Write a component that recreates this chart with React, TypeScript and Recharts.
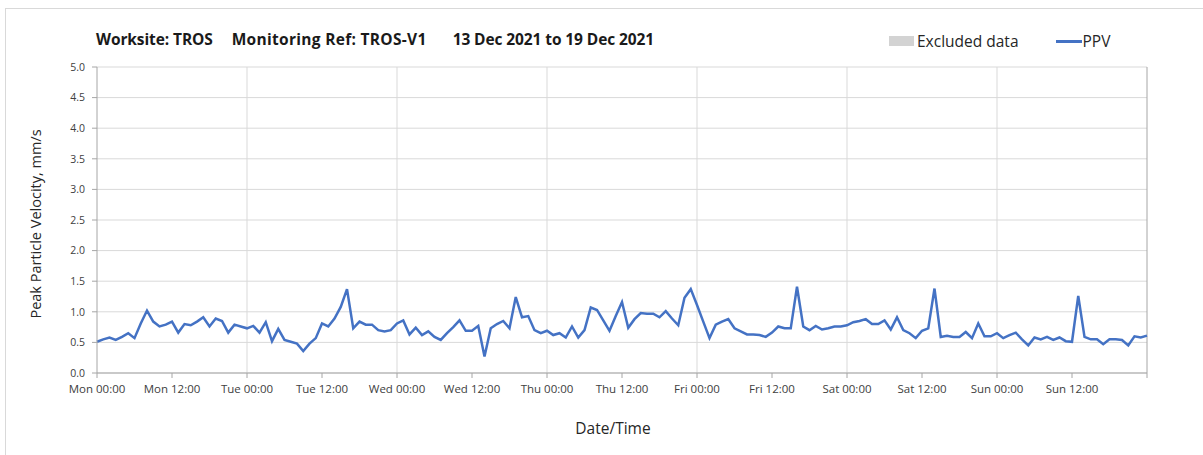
import React from 'react';
import { LineChart, Line, XAxis, YAxis, CartesianGrid, ReferenceLine } from 'recharts';

// Hourly peak particle velocity (mm/s), Mon 00:00 .. next Mon 00:00
const ppvValues: number[] = [
  0.51, 0.55, 0.58, 0.54, 0.59, 0.65, 0.57, 0.81, 1.02, 0.84,
  0.76, 0.79, 0.84, 0.66, 0.80, 0.78, 0.84, 0.91, 0.76, 0.89,
  0.85, 0.66, 0.79, 0.76, 0.73, 0.77, 0.66, 0.83, 0.52, 0.72,
  0.54, 0.51, 0.48, 0.36, 0.48, 0.57, 0.81, 0.76, 0.89, 1.08,
  1.37, 0.73, 0.84, 0.79, 0.79, 0.70, 0.68, 0.70, 0.81, 0.86,
  0.63, 0.74, 0.62, 0.68, 0.59, 0.54, 0.65, 0.75,
  0.86, 0.69, 0.69, 0.77, 0.27, 0.73, 0.80, 0.85, 0.73, 1.24,
  0.91, 0.93, 0.70, 0.65, 0.69, 0.62, 0.65, 0.58, 0.76, 0.58,
  0.70, 1.07, 1.03, 0.86, 0.69, 0.93, 1.16, 0.74, 0.88, 0.98,
  0.97, 0.97, 0.91, 1.01, 0.89, 0.78, 1.23, 1.37, 1.11, 0.84,
  0.57, 0.79, 0.84, 0.88, 0.73, 0.68, 0.63, 0.63, 0.62, 0.59,
  0.66, 0.76, 0.73, 0.73, 1.41, 0.76,
  0.70, 0.77, 0.71, 0.73, 0.76, 0.76, 0.78, 0.83, 0.85, 0.88,
  0.80, 0.80, 0.86, 0.71, 0.91, 0.70, 0.65, 0.57, 0.69, 0.73,
  1.38, 0.59, 0.61, 0.59, 0.59, 0.67, 0.57, 0.81, 0.60, 0.60,
  0.65, 0.57, 0.62, 0.66, 0.55, 0.45, 0.58, 0.55, 0.59, 0.54,
  0.58, 0.52, 0.51, 1.26, 0.59, 0.55, 0.55, 0.47, 0.55, 0.55,
  0.54, 0.45, 0.60, 0.58, 0.61,
];

const xTickHours = [0, 12, 24, 36, 48, 60, 72, 84, 96, 108, 120, 132, 144, 156, 168];
const xTickLabels = [
  'Mon 00:00', 'Mon 12:00', 'Tue 00:00', 'Tue 12:00', 'Wed 00:00', 'Wed 12:00',
  'Thu 00:00', 'Thu 12:00', 'Fri 00:00', 'Fri 12:00', 'Sat 00:00', 'Sat 12:00',
  'Sun 00:00', 'Sun 12:00', '',
];
const dayGridHours = [24, 48, 72, 96, 120, 144];
const plotEndHour = 168;
const yTicks = [0, 0.5, 1, 1.5, 2, 2.5, 3, 3.5, 4, 4.5, 5];

const titleParts = ['Worksite: TROS', 'Monitoring Ref: TROS-V1', '13 Dec 2021 to 19 Dec 2021'];
const legendItems = [
  { label: 'Excluded data', kind: 'rect', color: '#d3d3d3' },
  { label: 'PPV', kind: 'line', color: '#4472C4' },
];
const yAxisTitle = 'Peak Particle Velocity, mm/s';
const xAxisTitle = 'Date/Time';

const data = ppvValues.map((v, i) => ({ hour: i, ppv: v }));

const FONT = '"Open Sans", sans-serif';

export default function App() {
  return (
    <div style={{ position: 'absolute', left: 0, top: 0, width: 1203, height: 455, background: '#fff', overflow: 'hidden', fontFamily: FONT }}>
      <div style={{ position: 'absolute', left: 5, top: 8, width: 1300, height: 600, borderLeft: '1px solid #d9d9d9', borderTop: '1px solid #d9d9d9' }} />
      <div style={{ position: 'absolute', left: 96, top: 28, fontSize: 15.5, fontWeight: 700, color: '#1a1a1a', whiteSpace: 'nowrap', letterSpacing: -0.1 }}>
        <span>{titleParts[0]}</span>
        <span style={{ marginLeft: 19, letterSpacing: 0.3 }}>{titleParts[1]}</span>
        <span style={{ marginLeft: 26 }}>{titleParts[2]}</span>
      </div>
      <div style={{ position: 'absolute', left: 889, top: 30, display: 'flex', alignItems: 'center', fontSize: 15.5, color: '#262626', whiteSpace: 'nowrap' }}>
        {legendItems.map((it, i) => (
          <div key={i} style={{ display: 'flex', alignItems: 'center', marginRight: i === 0 ? 37 : 0 }}>
            {it.kind === 'rect' ? (
              <div style={{ width: 25, height: 10, background: it.color, marginRight: 3 }} />
            ) : (
              <div style={{ width: 26, height: 3, background: it.color, marginRight: 1 }} />
            )}
            <span>{it.label}</span>
          </div>
        ))}
      </div>
      <div style={{ position: 'absolute', left: 35, top: 224, transform: 'translate(-50%, -50%) rotate(-90deg)', fontSize: 14.5, color: '#262626', whiteSpace: 'nowrap' }}>
        {yAxisTitle}
      </div>
      <div style={{ position: 'absolute', left: 613, top: 428, transform: 'translate(-50%, -50%)', fontSize: 15.5, color: '#262626', whiteSpace: 'nowrap' }}>
        {xAxisTitle}
      </div>
      <div style={{ position: 'absolute', left: 0, top: 0 }}>
        <LineChart width={1203} height={455} data={data} margin={{ top: 67, right: 56, bottom: 52, left: 37 }}>
          <CartesianGrid vertical={false} stroke="#d9d9d9" strokeWidth={1} />
          {dayGridHours.map((h) => (
            <ReferenceLine key={h} x={h} stroke="#d9d9d9" strokeWidth={1} ifOverflow="visible" />
          ))}
          <ReferenceLine x={plotEndHour} stroke="#a6a6a6" strokeWidth={1} />
          <XAxis
            dataKey="hour"
            type="number"
            domain={[0, 168]}
            ticks={xTickHours}
            interval={0}
            height={30}
            tickFormatter={(v: number) => xTickLabels[xTickHours.indexOf(v)] ?? ''}
            stroke="#a6a6a6"
            tickSize={5}
            tickMargin={7}
            tick={{ fill: '#404040', fontSize: 11.5, fontFamily: FONT }}
          />
          <YAxis
            type="number"
            domain={[0, 5]}
            ticks={yTicks}
            interval={0}
            width={60}
            tickFormatter={(v: number) => v.toFixed(1)}
            stroke="#a6a6a6"
            tickSize={5}
            tickMargin={7}
            tick={{ fill: '#404040', fontSize: 10.5, fontFamily: FONT }}
          />
          <Line
            type="linear"
            dataKey="ppv"
            stroke="#4472C4"
            strokeWidth={2.5}
            dot={false}
            isAnimationActive={false}
          />
        </LineChart>
      </div>
    </div>
  );
}
